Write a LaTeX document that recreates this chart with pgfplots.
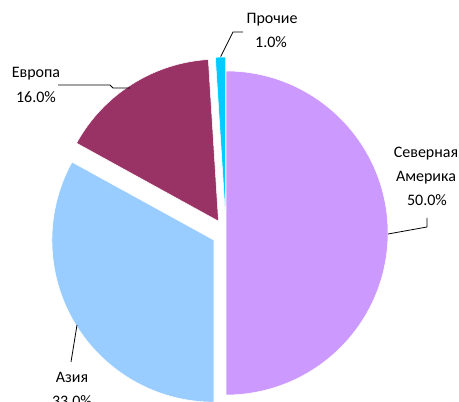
\documentclass[border=0pt]{standalone}
\usepackage{pgfplots}
\pgfplotsset{compat=1.18}
\usepackage{fontspec}
\setmainfont{Carlito}

\definecolor{cna}{HTML}{CC99FF}
\definecolor{casia}{HTML}{99CCFF}
\definecolor{ceur}{HTML}{993366}
\definecolor{coth}{HTML}{00CCFF}

\tikzset{lbl/.style={font=\fontsize{12}{15}\selectfont, anchor=base, inner sep=0pt}}

% shares in percent
\def\pNA{50}
\def\pAsia{33}
\def\pEur{16}
\def\pOth{1}

% one slice: start angle, end angle, explode (axis units), colour
\newcommand\slice[4]{%
  \fill[#4, draw=white, line width=0.4pt]
    (axis cs:{226+#3*cos((#1+#2)/2)},{169+#3*sin((#1+#2)/2)})
    -- ++(#1:121.5pt) arc[start angle=#1, end angle=#2, radius=121.5pt] -- cycle;}

\begin{document}
\begin{tikzpicture}
\pgfmathsetmacro\aA{90}
\pgfmathsetmacro\aB{\aA-3.6*\pNA}
\pgfmathsetmacro\aC{\aB-3.6*\pAsia}
\pgfmathsetmacro\aD{\aC-3.6*\pEur}
\pgfmathsetmacro\aE{\aD-3.6*\pOth}
\begin{axis}[scale only axis, width=344.25pt, height=301.5pt,
  xmin=0, xmax=459, ymin=0, ymax=402, hide axis, clip=false]
\slice{\aA}{\aB}{0}{cna}
\slice{\aB}{\aC}{14}{casia}
\slice{\aC}{\aD}{14}{ceur}
\slice{\aD}{\aE}{14}{coth}

% leader lines
\draw[line width=0.6pt] (axis cs:220.7,345.3) -- (axis cs:233,370) -- (axis cs:243,370);
\draw[line width=0.6pt] (axis cs:58,317) -- (axis cs:110,317) -- (axis cs:113,314) -- (axis cs:130,314);
\draw[line width=0.6pt] (axis cs:388,168) -- (axis cs:427,175) -- (axis cs:427,184);
\draw[line width=0.6pt] (axis cs:77,77) -- (axis cs:71,40);

% labels
\node[lbl] at (axis cs:272,378) {Прочие};
\node[lbl] at (axis cs:271,354) {1.0\%};
\node[lbl] at (axis cs:36,324) {Европа};
\node[lbl] at (axis cs:36,299) {16.0\%};
\node[lbl] at (axis cs:426,244) {Северная};
\node[lbl] at (axis cs:426,220) {Америка};
\node[lbl] at (axis cs:427,196) {50.0\%};
\node[lbl] at (axis cs:72,19.5) {Азия};
\node[lbl] at (axis cs:72,-4.5) {33.0\%};

\coordinate (sw) at (axis cs:0,0);
\coordinate (ne) at (axis cs:459,402);
\end{axis}
\pgfresetboundingbox
\useasboundingbox (sw) rectangle (ne);
\end{tikzpicture}
\end{document}
